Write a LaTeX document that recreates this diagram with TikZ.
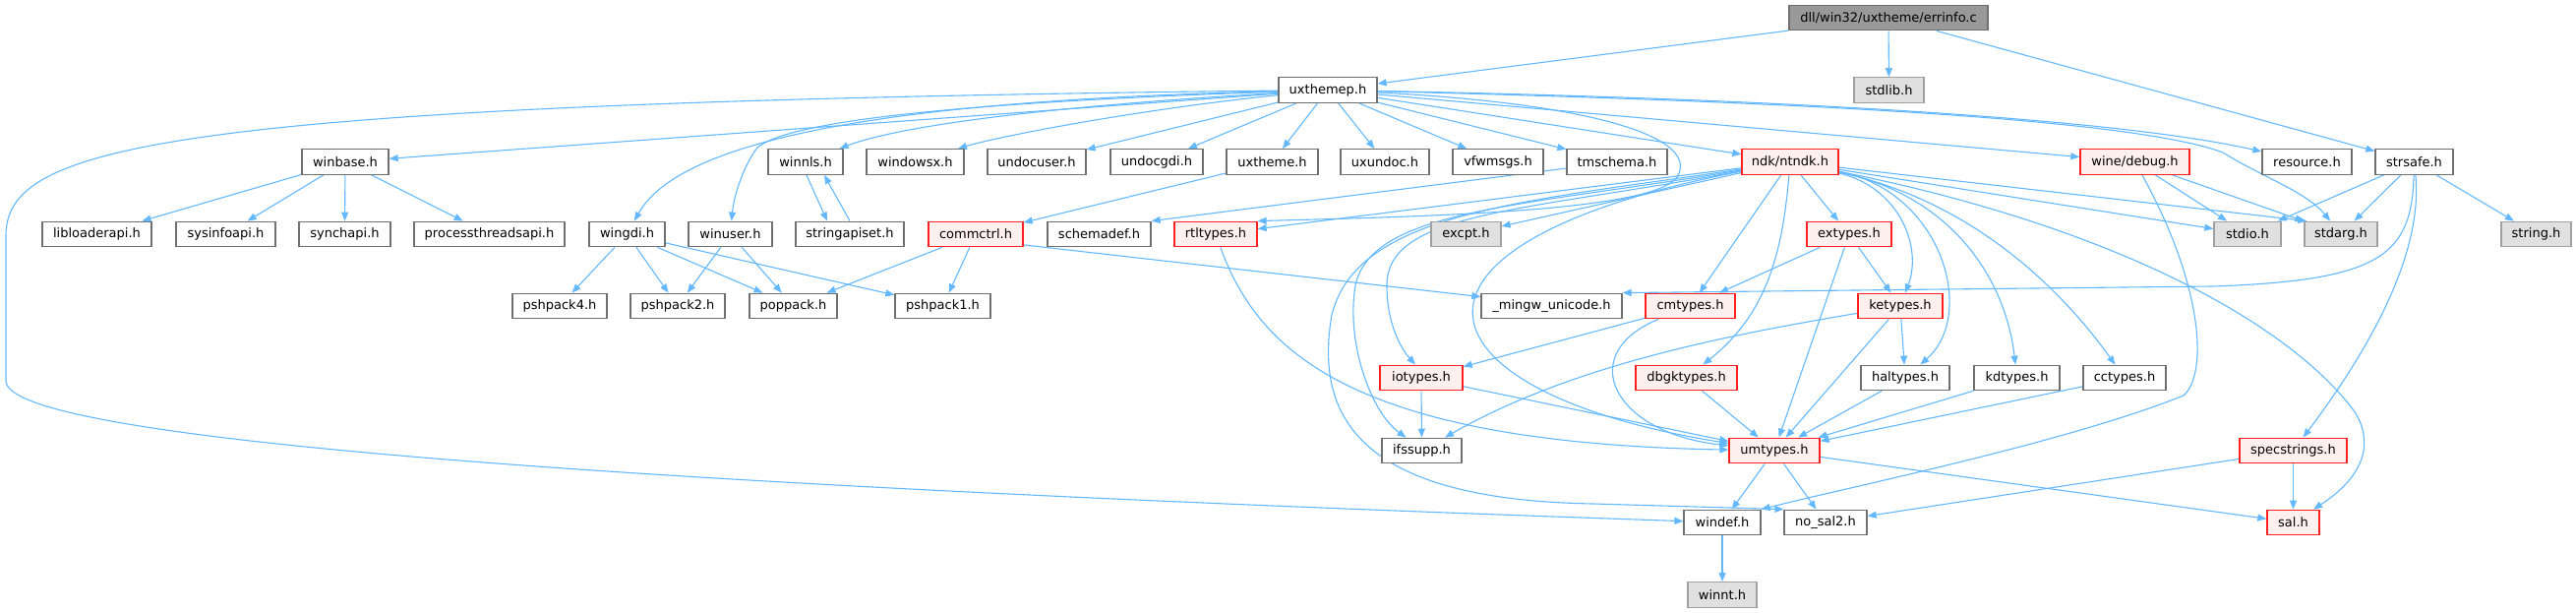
\documentclass[tikz,border=0pt]{standalone}
\usepackage{fontspec}
\setmainfont{DejaVu Sans}
\usetikzlibrary{arrows.meta}
\pgfdeclarelayer{bg}
\pgfsetlayers{bg,main}
\definecolor{eblue}{HTML}{63B8FF}
\definecolor{nbord}{HTML}{707070}
\definecolor{gbord}{HTML}{A0A0A0}
\definecolor{gfill}{HTML}{E0E0E0}
\definecolor{rfill}{HTML}{FFF0F0}
\definecolor{rbord}{HTML}{FF2020}
\definecolor{rootfill}{HTML}{999999}
\tikzset{
  box/.style={draw=nbord, fill=white, line width=1.3pt, minimum height=25.5pt, inner sep=0pt, text=black, font=\fontsize{13}{15}\selectfont},
  redbox/.style={box, draw=rbord, fill=rfill},
  graybox/.style={box, draw=gbord, fill=gfill},
  rootbox/.style={box, draw=nbord, fill=rootfill},
  edge/.style={draw=eblue, line width=1.1pt, -{Triangle[length=9pt,width=7pt]}}
}
\begin{document}
\begin{tikzpicture}[x=1pt,y=-1pt]
\useasboundingbox (0,0) rectangle (2619,623);
% row 0
\node[rootbox, minimum width=202pt] (errinfo) at (1920,18) {dll/win32/uxtheme/errinfo.c};
% row 1
\node[box, minimum width=100pt] (uxthemep) at (1350,91.5) {uxthemep.h};
\node[graybox, minimum width=71pt] (stdlib) at (1920.5,91.5) {stdlib.h};
% row 2
\node[box, minimum width=88pt] (winbase) at (351,164.5) {winbase.h};
\node[box, minimum width=76pt] (winnls) at (819,164.5) {winnls.h};
\node[box, minimum width=99pt] (windowsx) at (930.5,164.5) {windowsx.h};
\node[box, minimum width=100pt] (undocuser) at (1054,164.5) {undocuser.h};
\node[box, minimum width=94pt] (undocgdi) at (1176,164.5) {undocgdi.h};
\node[box, minimum width=93pt] (uxtheme) at (1293.5,164.5) {uxtheme.h};
\node[box, minimum width=90pt] (uxundoc) at (1408,164.5) {uxundoc.h};
\node[box, minimum width=92pt] (vfwmsgs) at (1523,164.5) {vfwmsgs.h};
\node[box, minimum width=102pt] (tmschema) at (1644,164.5) {tmschema.h};
\node[redbox, minimum width=98pt] (ntndk) at (1820,164.5) {ndk/ntndk.h};
\node[redbox, minimum width=111pt] (winedebug) at (2170.5,164.5) {wine/debug.h};
\node[box, minimum width=91pt] (resource) at (2345.5,164.5) {resource.h};
\node[box, minimum width=79pt] (strsafe) at (2454.5,164.5) {strsafe.h};
% row 3
\node[box, minimum width=111pt] (libloader) at (98.5,238) {libloaderapi.h};
\node[box, minimum width=101pt] (sysinfo) at (229.5,238) {sysinfoapi.h};
\node[box, minimum width=93pt] (synch) at (350.5,238) {synchapi.h};
\node[box, minimum width=153pt] (procthr) at (497.5,238) {processthreadsapi.h};
\node[box, minimum width=77pt] (wingdi) at (637.5,238) {wingdi.h};
\node[box, minimum width=85pt] (winuser) at (742.5,238) {winuser.h};
\node[box, minimum width=110pt] (strapi) at (864,238) {stringapiset.h};
\node[redbox, minimum width=96pt] (commctrl) at (992,238) {commctrl.h};
\node[box, minimum width=105pt] (schemadef) at (1117.5,238) {schemadef.h};
\node[redbox, minimum width=84pt] (rtltypes) at (1236,238) {rtltypes.h};
\node[graybox, minimum width=71pt] (excpt) at (1490.5,238) {excpt.h};
\node[redbox, minimum width=86pt] (extypes) at (1880,238) {extypes.h};
\node[graybox, minimum width=68pt] (stdio) at (2285,238) {stdio.h};
\node[graybox, minimum width=74pt] (stdarg) at (2380,238) {stdarg.h};
\node[graybox, minimum width=71pt] (string) at (2578.5,238) {string.h};
% row 4
\node[box, minimum width=96pt] (pshpack4) at (569,311) {pshpack4.h};
\node[box, minimum width=96pt] (pshpack2) at (689,311) {pshpack2.h};
\node[box, minimum width=89pt] (poppack) at (806.5,311) {poppack.h};
\node[box, minimum width=97pt] (pshpack1) at (958.5,311) {pshpack1.h};
\node[box, minimum width=143pt] (mingw) at (1577.5,311) {\_mingw\_unicode.h};
\node[redbox, minimum width=91pt] (cmtypes) at (1718.5,311) {cmtypes.h};
\node[redbox, minimum width=86pt] (ketypes) at (1932,311) {ketypes.h};
% row 5
\node[redbox, minimum width=84pt] (iotypes) at (1445,384) {iotypes.h};
\node[redbox, minimum width=103pt] (dbgktypes) at (1714.5,384) {dbgktypes.h};
\node[box, minimum width=90pt] (haltypes) at (1937,384) {haltypes.h};
\node[box, minimum width=87pt] (kdtypes) at (2050.5,384) {kdtypes.h};
\node[box, minimum width=84pt] (cctypes) at (2160,384) {cctypes.h};
% row 6
\node[box, minimum width=81pt] (ifssupp) at (1445.5,458) {ifssupp.h};
\node[redbox, minimum width=92pt] (umtypes) at (1804,458) {umtypes.h};
\node[redbox, minimum width=109pt] (specstr) at (2331.5,458) {specstrings.h};
% row 7
\node[box, minimum width=78pt] (windef) at (1751,531) {windef.h};
\node[box, minimum width=84pt] (nosal2) at (1856,531) {no\_sal2.h};
\node[redbox, minimum width=53pt] (sal) at (2331.5,531) {sal.h};
% row 8
\node[graybox, minimum width=70pt] (winnt) at (1751,604.5) {winnt.h};

\begin{pgfonlayer}{bg}
% errinfo.c
\draw[edge] (errinfo) -- (uxthemep);
\draw[edge] (errinfo) -- (stdlib);
\draw[edge] (errinfo) -- (strsafe);
% uxthemep.h
\draw[edge] (uxthemep) -- (winbase);
\draw[edge] (uxthemep) .. controls (1000,100) and (700,125) .. (wingdi);
\draw[edge] (uxthemep) .. controls (950,105) and (800,125) .. (770,150) .. controls (755,170) and (746,200) .. (winuser);
\draw[edge] (uxthemep) .. controls (1000,112) and (895,135) .. (winnls);
\draw[edge] (uxthemep) .. controls (1150,112) and (1010,140) .. (windowsx);
\draw[edge] (uxthemep) -- (undocuser);
\draw[edge] (uxthemep) -- (undocgdi);
\draw[edge] (uxthemep) -- (uxtheme);
\draw[edge] (uxthemep) -- (uxundoc);
\draw[edge] (uxthemep) -- (vfwmsgs);
\draw[edge] (uxthemep) -- (tmschema);
\draw[edge] (uxthemep) -- (ntndk);
\draw[edge] (uxthemep) -- (winedebug);
\draw[edge] (uxthemep) .. controls (1800,100) and (2150,120) .. (resource);
\draw[edge] (uxthemep) .. controls (1900,105) and (2180,125) .. (2260,155) .. controls (2300,180) and (2345,195) .. (stdarg);
\draw[edge] (uxthemep) .. controls (150,105) and (6,150) .. (6,240) -- (6,387) .. controls (6,450) and (700,495) .. (windef);
\draw[edge] (uxthemep) .. controls (1620,105) and (1730,140) .. (1705,180) .. controls (1680,215) and (1450,220) .. (rtltypes.north east);
% winbase.h
\draw[edge] (winbase) -- (libloader);
\draw[edge] (winbase) -- (sysinfo);
\draw[edge] (winbase) -- (synch);
\draw[edge] (winbase) -- (procthr);
% wingdi.h / winuser.h
\draw[edge] (wingdi) -- (pshpack4);
\draw[edge] (wingdi) -- (pshpack2);
\draw[edge] (wingdi) -- (poppack);
\draw[edge] (wingdi) -- (pshpack1);
\draw[edge] (winuser) -- (pshpack2);
\draw[edge] (winuser) -- (poppack);
% winnls.h <-> stringapiset.h
\draw[edge] ([xshift=1pt]winnls.south) -- ([xshift=-23pt]strapi.north);
\draw[edge] (strapi.north) -- ([xshift=19pt]winnls.south);
% uxtheme.h / commctrl.h
\draw[edge] (uxtheme) -- (commctrl);
\draw[edge] (commctrl) -- (poppack);
\draw[edge] (commctrl) -- (pshpack1);
\draw[edge] ([yshift=2.5pt]commctrl.south east) -- ([yshift=-4pt]mingw.north west);
% tmschema.h
\draw[edge] (tmschema) -- (schemadef.north east);
% ndk/ntndk.h
\draw[edge] (ntndk) -- (extypes);
\draw[edge] (ntndk) .. controls (1930,190) and (1955,250) .. (ketypes);
\draw[edge] (ntndk) .. controls (1975,195) and (2010,320) .. (haltypes);
\draw[edge] (ntndk) .. controls (1990,200) and (2040,290) .. (kdtypes);
\draw[edge] (ntndk) .. controls (2010,205) and (2100,300) .. (cctypes);
\draw[edge] (ntndk) -- (stdio);
\draw[edge] (ntndk) -- ([xshift=3pt]stdarg.north west);
\draw[edge] (ntndk) .. controls (2150,230) and (2330,330) .. (2395,420) .. controls (2410,445) and (2410,480) .. (sal);
\draw[edge] (ntndk) -- (cmtypes);
\draw[edge] (ntndk) .. controls (1812,260) and (1795,320) .. (dbgktypes);
\draw[edge] (ntndk) .. controls (1380,250) and (1440,400) .. (umtypes);
\draw[edge] (ntndk) .. controls (1550,215) and (1410,215) .. (1410,290) .. controls (1410,330) and (1425,355) .. ([xshift=-6pt]iotypes.north);
\draw[edge] (ntndk) .. controls (1550,210) and (1395,212) .. (1378,290) .. controls (1368,350) and (1395,420) .. ([xshift=-16pt]ifssupp.north);
\draw[edge] (ntndk) .. controls (1550,205) and (1380,215) .. (1354,320) .. controls (1335,430) and (1390,508) .. (1620,512) -- (nosal2.north west);
\draw[edge] (ntndk) -- (excpt);
\draw[edge] (ntndk) -- (rtltypes);
% wine/debug.h
\draw[edge] (winedebug) -- (stdio);
\draw[edge] (winedebug) -- (stdarg);
\draw[edge] (winedebug) .. controls (2240,290) and (2245,380) .. (2220,402) .. controls (2100,450) and (1880,495) .. (windef.north east);
% strsafe.h
\draw[edge] (strsafe) -- (stdio);
\draw[edge] (strsafe) -- (stdarg);
\draw[edge] (strsafe) -- (string);
\draw[edge] (strsafe) .. controls (2452,260) and (2420,285) .. (2250,291) -- (mingw.north east);
\draw[edge] (strsafe) .. controls (2465,270) and (2390,380) .. (specstr);
% extypes.h / ketypes.h
\draw[edge] (extypes) -- (cmtypes);
\draw[edge] (extypes) -- (ketypes);
\draw[edge] (extypes) -- (umtypes);
\draw[edge] (ketypes) -- (haltypes);
\draw[edge] (ketypes) -- (umtypes);
\draw[edge] (ketypes) .. controls (1760,340) and (1600,370) .. (ifssupp);
% cmtypes.h / iotypes.h / others
\draw[edge] (cmtypes) -- (iotypes);
\draw[edge] (cmtypes) .. controls (1600,360) and (1640,440) .. (umtypes);
\draw[edge] (iotypes) -- (ifssupp);
\draw[edge] (iotypes) -- (umtypes);
\draw[edge] (dbgktypes) -- (umtypes);
\draw[edge] (haltypes) -- (umtypes);
\draw[edge] (kdtypes) -- (umtypes);
\draw[edge] (cctypes) -- (umtypes);
\draw[edge] (rtltypes) .. controls (1280,360) and (1380,450) .. (umtypes);
% umtypes.h and below
\draw[edge] (umtypes) -- (windef);
\draw[edge] (umtypes) -- (nosal2);
\draw[edge] (umtypes) -- (sal);
\draw[edge] (specstr) -- (sal);
\draw[edge] (specstr) -- (nosal2);
\draw[edge] (windef) -- (winnt);
\end{pgfonlayer}
\end{tikzpicture}
\end{document}
